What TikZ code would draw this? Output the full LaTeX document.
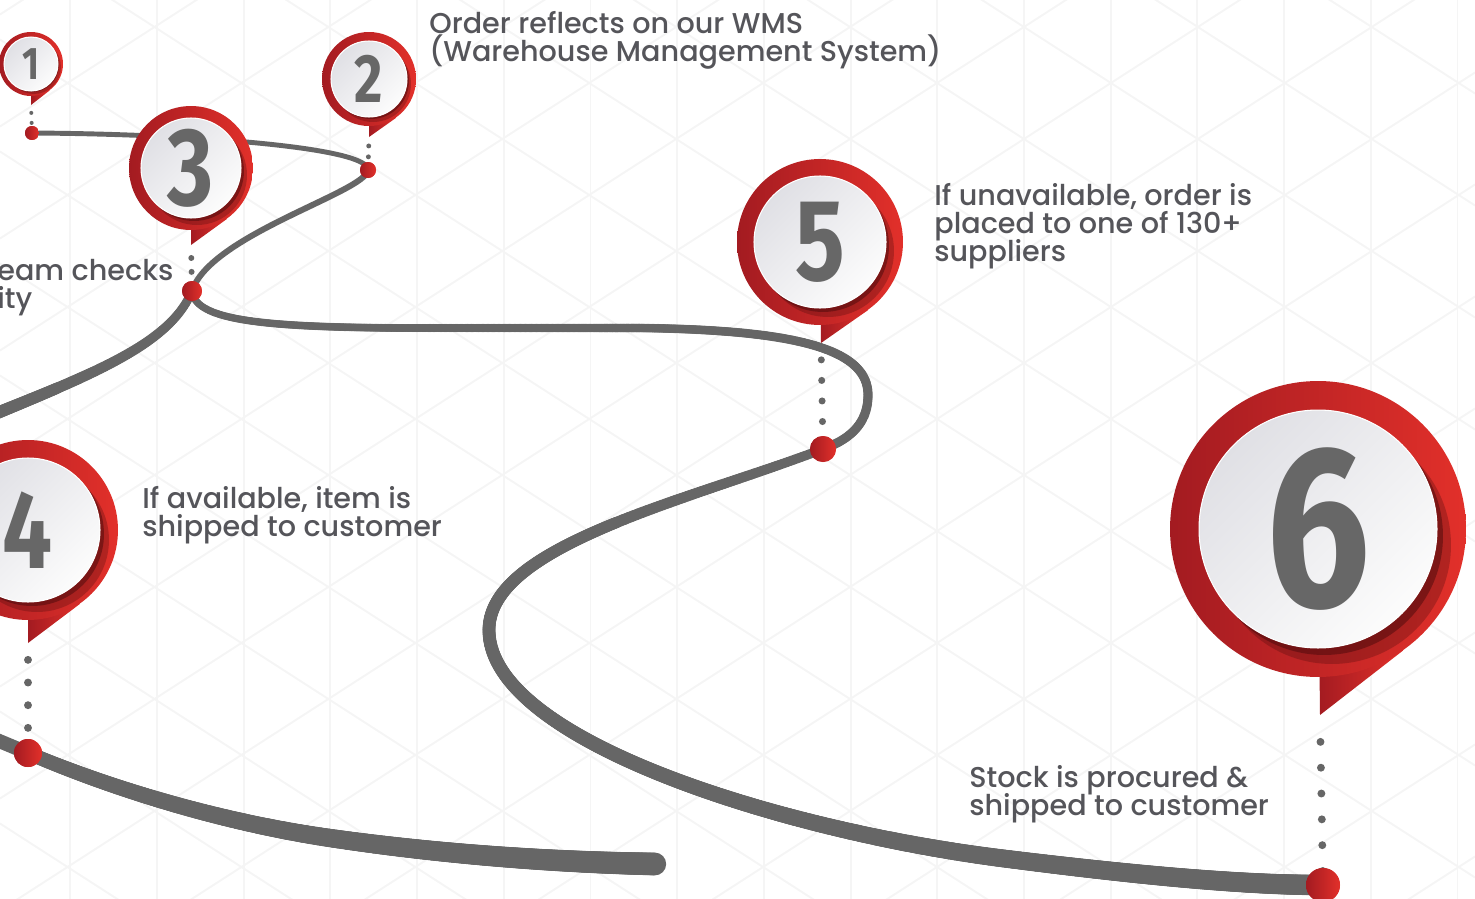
\documentclass[tikz,border=0pt]{standalone}
\usepackage{fontspec}
\setmainfont{Poppins}[UprightFont=* Medium]
\newfontfamily\numfont{Fira Sans}
\usepackage{tikz}
\usetikzlibrary{decorations.markings}

\definecolor{ringdark}{HTML}{A31B21}
\definecolor{ringlight}{HTML}{E2302A}
\definecolor{shadowred}{HTML}{4A0A0C}
\definecolor{facedark}{HTML}{E0E0E5}
\definecolor{facelight}{HTML}{FCFCFC}
\definecolor{roadgray}{HTML}{666666}
\definecolor{numgray}{HTML}{676767}
\definecolor{textgray}{HTML}{55555A}
\definecolor{gridgray}{HTML}{F5F5F5}

\pgfdeclarelayer{grid}
\pgfdeclarelayer{road}
\pgfdeclarelayer{tail}
\pgfsetlayers{grid,road,tail,main}

\newcommand\pinnum[2]{{\numfont\bfseries\fontsize{#1}{#1}\selectfont\scalebox{0.8}[1]{#2}}}
\newcommand\stepfont{\fontsize{16.3}{15.9}\selectfont\lineskiplimit=-20pt\relax}

\tikzset{
  pinring/.style={circle, inner sep=0pt, left color=ringdark, right color=ringlight},
  pinshadow/.style={circle, inner sep=0pt, fill=shadowred, fill opacity=#1},
  pinface/.style={circle, inner sep=0pt, draw=white, line width=0.6pt, top color=facedark, bottom color=facelight, shading angle=45, text=numgray},
  pintail/.style={left color=ringdark, right color=ringlight},
  reddot/.style={circle, inner sep=0pt, left color=ringdark, right color=ringlight},
  road/.style={draw=roadgray, line cap=round, line join=round},
  taper/.style args={#1 to #2}{postaction={decorate}, decoration={markings,
    mark=between positions 0 and 1 step 0.7pt with {
      \pgfmathsetmacro\roadr{(#1+(#2-#1)*\pgfkeysvalueof{/pgf/decoration/mark info/distance from start}/\pgfdecoratedpathlength)/2}
      \fill[roadgray] (0,0) circle (\roadr pt);}}},
  dotline/.style={draw=roadgray, line cap=round, dash pattern=on 0pt off #1},
  steptext/.style={text=textgray, align=left, anchor=base west, inner sep=0pt, font=\stepfont},
  gridline/.style={draw=gridgray, line width=1.1pt},
}

\begin{document}
\begin{tikzpicture}[x=0.02cm, y=-0.02cm]
	\useasboundingbox (0,0) rectangle (1475,899);
	
	\begin{pgfonlayer}{grid}
	\begin{scope}
	\clip (0,0) rectangle (1475,899);
	\foreach \k in {0,...,16}
		\draw[gridline] ({70.3+86.7*\k},0) -- ({70.3+86.7*\k},899);
	\foreach \k in {-9,...,10}
		\draw[gridline] (0,{-184.5+112*\k}) -- (1475,{765.5+112*\k});
	\foreach \k in {-10,...,8}
		\draw[gridline] (0,{1134.5+112*\k}) -- (1475,{184.5+112*\k});
	\end{scope}
	\end{pgfonlayer}
	
	\node[reddot, minimum size=0.28cm](D1) at (32,133){};
	\node[reddot, minimum size=0.32cm](D2) at (368,170){};
	\node[reddot, minimum size=0.40cm](D3) at (192,291){};
	\node[reddot, minimum size=0.56cm](D4) at (28,753){};
	\node[reddot, minimum size=0.52cm](D5) at (823,449){};
	\node[reddot, minimum size=0.68cm](D6) at (1323,885){};
	\coordinate (W3) at (-20,420);
	\coordinate (W4) at (-20,733);
	\coordinate (E4) at (655,864);
	
	\begin{pgfonlayer}{road}
	\draw[road, line width=2.8pt] (D1.center) .. controls (200,134) and (370,148) .. (D2.center);
	\draw[road, line width=3.4pt] (D2.center) .. controls (366,192) and (210,235) .. (D3.center);
	\path[taper=5 to 7.2] (D3.center) .. controls (170,345) and (90,375) .. (W3);
	\path[taper=4.2 to 5.4] (D3.center) .. controls (195,320) and (260,327) .. (400,328) -- (640,328) .. controls (800,330) and (868,350) .. (868,395) .. controls (868,425) and (848,440) .. (D5.center);
	\path[taper=5.4 to 11.8] (D5.center) .. controls (690,500) and (489,545) .. (489,630) .. controls (489,740) and (780,830) .. (1000,858) .. controls (1150,877) and (1250,885) .. (D6.center);
	\draw[road, line width=8pt] (W4) -- (D4.center);
	\path[taper=8 to 13] (D4.center) .. controls (110,788) and (220,822) .. (330,838) .. controls (440,854) and (550,862) .. (E4);
	\end{pgfonlayer}
	
	\node[pinring, minimum size=1.28cm](R1) at (31,64){};
	\node[pinshadow=0.3, minimum size=1.08cm] at ([shift={(3,3)}]R1.center){};
	\node[pinshadow=0.5, minimum size=1.08cm] at ([shift={(1,1)}]R1.center){};
	\node[pinface, minimum size=1.08cm](F1) at (R1){\pinnum{26}{1}};
	\coordinate (T1) at (31,105);
	
	\node[pinring, minimum size=1.88cm](R2) at (369,79){};
	\node[pinshadow=0.3, minimum size=1.52cm] at ([shift={(4,5)}]R2.center){};
	\node[pinshadow=0.5, minimum size=1.52cm] at ([shift={(2,2)}]R2.center){};
	\node[pinface, minimum size=1.52cm](F2) at (R2){\pinnum{39}{2}};
	\coordinate (T2) at (369,137);
	
	\node[pinring, minimum size=2.48cm](R3) at (191,168){};
	\node[pinshadow=0.3, minimum size=2.0cm] at ([shift={(6,7)}]R3.center){};
	\node[pinshadow=0.5, minimum size=2.0cm] at ([shift={(3,3)}]R3.center){};
	\node[pinface, minimum size=2.0cm](F3) at (R3){\pinnum{63}{3}};
	\coordinate (T3) at (191,245);
	
	\node[pinring, minimum size=3.6cm](R4) at (28,530){};
	\node[pinshadow=0.3, minimum size=2.88cm] at ([shift={(9,10)}]R4.center){};
	\node[pinshadow=0.5, minimum size=2.88cm] at ([shift={(4,4)}]R4.center){};
	\node[pinface, minimum size=2.88cm](F4) at (R4){\pinnum{63}{4}};
	\coordinate (T4) at (28,643);
	
	\node[pinring, minimum size=3.32cm](R5) at (820,242){};
	\node[pinshadow=0.3, minimum size=2.64cm] at ([shift={(8,9)}]R5.center){};
	\node[pinshadow=0.5, minimum size=2.64cm] at ([shift={(3,4)}]R5.center){};
	\node[pinface, minimum size=2.64cm](F5) at (R5){\pinnum{66}{5}};
	\coordinate (T5) at (821,343);
	
	\node[pinring, minimum size=5.92cm](R6) at (1318,529){};
	\node[pinshadow=0.3, minimum size=4.76cm] at ([shift={(14,16)}]R6.center){};
	\node[pinshadow=0.5, minimum size=4.76cm] at ([shift={(6,7)}]R6.center){};
	\node[pinface, minimum size=4.76cm](F6) at (R6){\pinnum{131}{6}};
	\coordinate (T6) at (1320,715);
	
	\begin{pgfonlayer}{tail}
	\shade[pintail] (R1.center) -- (T1) -- (R1.-55) -- cycle;
	\shade[pintail] (R2.center) -- (T2) -- (R2.-55) -- cycle;
	\shade[pintail] (R3.center) -- (T3) -- (R3.-55) -- cycle;
	\shade[pintail] (R4.center) -- (T4) -- (R4.-55) -- cycle;
	\shade[pintail] (R5.center) -- (T5) -- (R5.-55) -- cycle;
	\shade[pintail] (R6.center) -- (T6) -- (R6.-55) -- cycle;
	\end{pgfonlayer}
	
	\draw[dotline=5.7pt, line width=2.3pt, shorten <=4.5pt] (T1) -- (D1.center);
	\draw[dotline=6.2pt, line width=2.8pt, shorten <=5.1pt] (T2) -- (D2.center);
	\draw[dotline=7.9pt, line width=3.4pt, shorten <=7.4pt] (T3) -- (D3.center);
	\draw[dotline=12.9pt, line width=4.5pt, shorten <=9.6pt] (T4) -- (D4.center);
	\draw[dotline=11.7pt, line width=4pt, shorten <=9.6pt] (T5) -- (D5.center);
	\draw[dotline=14.7pt, line width=4.5pt, shorten <=15.3pt] (T6) -- (D6.center);
	
	\node[reddot, minimum size=0.28cm] at (D1){};
	\node[reddot, minimum size=0.32cm] at (D2){};
	\node[reddot, minimum size=0.40cm] at (D3){};
	\node[reddot, minimum size=0.56cm] at (D4){};
	\node[reddot, minimum size=0.52cm] at (D5){};
	\node[reddot, minimum size=0.68cm] at (D6){};
	
	\node[steptext](L2) at (429,61){Order reflects on our WMS\\(Warehouse Management System)};
	\node[steptext](L3) at (-3,308){eam checks\\ity};
	\node[steptext](L4) at (142,536){If available, item is\\shipped to customer};
	\node[steptext](L5) at (934,261){If unavailable, order is\\placed to one of 130+\\suppliers};
	\node[steptext](L6) at (969,815){Stock is procured \&\\shipped to customer};
\end{tikzpicture}
\end{document}
